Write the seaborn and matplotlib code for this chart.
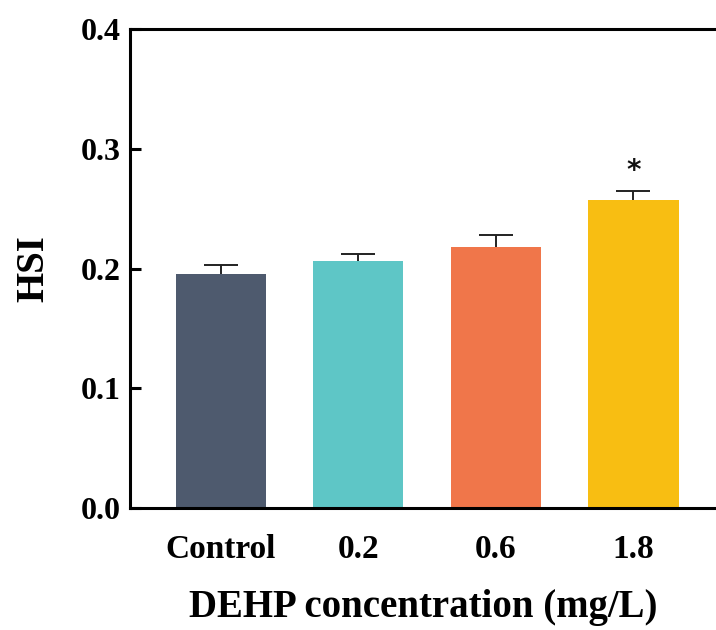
import matplotlib
matplotlib.use("Agg")
import matplotlib.pyplot as plt
import seaborn as sns
import pandas as pd

categories = ["Control", "0.2", "0.6", "1.8"]
hsi_mean = [0.195, 0.206, 0.218, 0.257]
hsi_err = [0.008, 0.0065, 0.010, 0.008]
bar_colors = ["#4E5A6E", "#5EC6C6", "#F0764A", "#F8BE12"]
significance = ["", "", "", "*"]
y_ticks = [0.0, 0.1, 0.2, 0.3, 0.4]

sns.set_theme(style="white")
plt.rcParams["font.family"] = ["Liberation Serif", "DejaVu Serif"]
plt.rcParams["font.weight"] = "bold"
plt.rcParams["text.color"] = "black"
plt.rcParams["axes.labelcolor"] = "black"

df = pd.DataFrame({"group": categories, "HSI": hsi_mean})

fig = plt.figure(figsize=(7.16, 6.30), dpi=100)
ax = fig.add_axes([130 / 716, 1 - 508 / 630, 1 - 130 / 716, (508 - 29) / 630])

sns.barplot(data=df, x="group", y="HSI", hue="group", palette=bar_colors,
            order=categories, hue_order=categories, dodge=False, legend=False,
            width=0.655, errorbar=None, ax=ax, edgecolor="none", saturation=1,
            zorder=2)

xs = list(range(len(categories)))
ax.errorbar(xs, hsi_mean, yerr=hsi_err, fmt="none",
            ecolor="#222222", elinewidth=1.4, capsize=12, capthick=1.4, zorder=1)

for x, m, e, s in zip(xs, hsi_mean, hsi_err, significance):
    if s:
        ax.text(x, m + e + 0.005, s, ha="center", va="bottom", fontsize=20,
                fontweight="bold", color="#111111", family="DejaVu Sans")

ax.set_ylim(0, 0.4)
ax.set_xlim(-0.66, 3.6)
ax.set_yticks(y_ticks)
ax.set_yticklabels([f"{t:.1f}" for t in y_ticks])

for side in ["left", "top", "bottom"]:
    ax.spines[side].set_linewidth(2.2)
    ax.spines[side].set_color("black")
ax.spines["right"].set_visible(False)

ax.tick_params(axis="y", direction="in", length=8, width=2.2, pad=7,
               labelsize=23, colors="black", left=True)
ax.tick_params(axis="x", length=0, pad=19, labelsize=24, colors="black")
for lab in ax.get_xticklabels() + ax.get_yticklabels():
    lab.set_fontweight("bold")

ax.set_xlabel("DEHP concentration (mg/L)", fontsize=28, fontweight="bold",
              labelpad=17, color="black")
ax.set_ylabel("HSI", fontsize=28, fontweight="bold", labelpad=20, color="black")

fig.savefig("out.png", dpi=100)
